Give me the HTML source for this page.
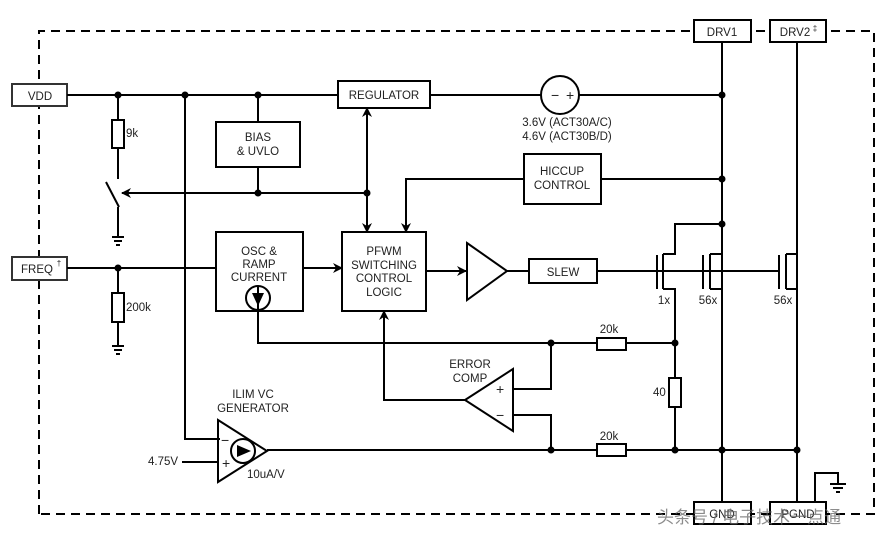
<!DOCTYPE html>
<html><head><style>body{margin:0;background:#fff}svg{display:block}text{font-family:"Liberation Sans",Arial,sans-serif;font-size:11.5px;fill:#222}</style></head>
<body>
<svg width="889" height="534" viewBox="0 0 889 534" xmlns="http://www.w3.org/2000/svg">
<defs><marker id="a" markerWidth="10" markerHeight="10" refX="9" refY="5" orient="auto" markerUnits="userSpaceOnUse"><path d="M0,0 L10,5 L0,10 L3,5 z" fill="#000"/></marker></defs>
<g fill="none" stroke="#000" stroke-width="2">
<path d="M39,514 V31 H874 V514 Z" stroke-dasharray="9,6"/>
</g>
<g fill="#fff" stroke="#000" stroke-width="2">
<rect x="12" y="84" width="55" height="22" stroke="#333"/>
<rect x="12" y="257" width="55" height="23" stroke="#333"/>
<rect x="694" y="20" width="57" height="22"/>
<rect x="770" y="20" width="56" height="22"/>
<rect x="694" y="502" width="57" height="22"/>
<rect x="770" y="502" width="56" height="22"/>
</g>
<g fill="none" stroke="#000" stroke-width="2">
<path d="M67,95 H338 M430,95 H541 M579,95 H722"/>
<path d="M118,95 V120 M118,148 V179 M106,182 L119,207 M118,207 V236"/>
<path d="M112,237 H124 M114,241 H122 M116,245 H120"/>
<path d="M258,95 V122 M258,167 V193 M367,193 H122" marker-end="url(#a)"/>
<path d="M367,193 V108" marker-end="url(#a)"/>
<path d="M367,193 V232" marker-end="url(#a)"/>
<path d="M185,95 V439 H220"/>
<path d="M524,179 H406 V232" marker-end="url(#a)"/>
<path d="M601,179 H722 M722,42 V502 M797,42 V502"/>
<path d="M67,268 H216 M118,268 V293 M118,322 V345 M112,346 H124 M114,350 H122 M116,354 H120"/>
<path d="M303,268 H342" marker-end="url(#a)"/>
<path d="M426,271 H466" marker-end="url(#a)"/>
<path d="M467,243 L507,271 L467,300 Z"/>
<path d="M507,271 H529 M597,271 H779"/>
<path d="M258,310 V343 H597 M626,343 H675"/>
<path d="M657,255 V289 M663,254 V289 M663,254 H675 V224 H722 M663,289 H675 V378 M675,407 V450"/>
<path d="M703,255 V289 M710,254 V289 M710,254 H722 M710,289 H722"/>
<path d="M779,255 V289 M786,254 V289 M786,254 H797 V42 M786,289 H797"/>
<path d="M267,450 H597 M626,450 H797"/>
<path d="M465,400 L513,369 L513,431 Z"/>
<path d="M513,389 H551 V343 M513,415 H551 V450"/>
<path d="M465,400 H384 V311" marker-end="url(#a)"/>
<path d="M218,420 L267,451 L218,482 Z"/>
<path d="M182,462 H218"/>
<circle cx="243" cy="451" r="12"/>
<circle cx="560" cy="95" r="19"/>
<path d="M815,502 V473 H838 V483 M830,484 H846 M833,488 H843 M836,492 H840"/>
</g>
<g fill="#000"><path d="M237,445 L251,451 L237,457 Z"/></g>
<g fill="#fff" stroke="#000" stroke-width="2">
<rect x="338" y="81" width="92" height="27"/>
<rect x="216" y="122" width="84" height="45"/>
<rect x="524" y="154" width="77" height="50"/>
<rect x="216" y="232" width="87" height="79"/>
<rect x="342" y="232" width="84" height="79"/>
<rect x="529" y="259" width="68" height="24"/>
<rect x="112" y="120" width="12" height="28"/>
<rect x="112" y="293" width="12" height="29"/>
<rect x="597" y="338" width="29" height="12"/>
<rect x="597" y="444" width="29" height="12"/>
<rect x="669" y="378" width="12" height="29"/>
</g>
<circle cx="258" cy="298" r="12" fill="none" stroke="#000" stroke-width="2"/>
<path d="M258,286 V310" stroke="#000" stroke-width="2"/>
<path d="M252,293 L258,306 L264,293 Z" fill="#000"/>
<g fill="#000">
<circle cx="118" cy="95" r="3.5"/><circle cx="185" cy="95" r="3.5"/><circle cx="258" cy="95" r="3.5"/>
<circle cx="722" cy="95" r="3.5"/><circle cx="258" cy="193" r="3.5"/><circle cx="367" cy="193" r="3.5"/>
<circle cx="722" cy="179" r="3.5"/><circle cx="722" cy="224" r="3.5"/><circle cx="118" cy="268" r="3.5"/>
<circle cx="551" cy="343" r="3.5"/><circle cx="675" cy="343" r="3.5"/>
<circle cx="551" cy="450" r="3.5"/><circle cx="675" cy="450" r="3.5"/><circle cx="722" cy="450" r="3.5"/><circle cx="797" cy="450" r="3.5"/>
</g>
<g text-anchor="middle">
<text x="40" y="100">VDD</text>
<text x="37" y="273">FREQ</text><text x="59" y="266" style="font-size:8px">†</text>
<text x="722" y="36">DRV1</text>
<text x="795" y="36">DRV2</text><text x="815" y="31" style="font-size:8px">‡</text>
<text x="722" y="518">GND</text><text x="798" y="518">PGND</text>
<text x="384" y="99">REGULATOR</text>
<text x="258" y="141">BIAS</text><text x="258" y="155">&amp; UVLO</text>
<text x="562" y="175">HICCUP</text><text x="562" y="189">CONTROL</text>
<text x="259" y="255">OSC &amp;</text><text x="259" y="268">RAMP</text><text x="259" y="281">CURRENT</text>
<text x="384" y="255">PFWM</text><text x="384" y="269">SWITCHING</text><text x="384" y="282">CONTROL</text><text x="384" y="296">LOGIC</text>
<text x="563" y="276">SLEW</text>
<text x="567" y="126">3.6V (ACT30A/C)</text><text x="567" y="140">4.6V (ACT30B/D)</text>
<text x="664" y="304">1x</text><text x="708" y="304">56x</text><text x="783" y="304">56x</text>
<text x="609" y="333">20k</text><text x="609" y="440">20k</text>
<text x="470" y="368">ERROR</text><text x="470" y="382">COMP</text>
<text x="253" y="398">ILIM VC</text><text x="253" y="412">GENERATOR</text>
</g>
<text x="126" y="137">9k</text><text x="126" y="311">200k</text>
<text x="653" y="396">40</text><text x="148" y="465">4.75V</text><text x="247" y="478">10uA/V</text>
<text x="551" y="100" style="font-size:14px">−</text><text x="566" y="100" style="font-size:14px">+</text>
<text x="496" y="394" style="font-size:14px">+</text><text x="496" y="420" style="font-size:14px">−</text>
<text x="221" y="445" style="font-size:14px">−</text><text x="222" y="468" style="font-size:14px">+</text>
<text x="657" y="523" style="font-size:17px;fill:#666;opacity:.75;font-family:'Liberation Sans','Noto Sans CJK SC',sans-serif">头条号 / 电子技术一点通</text>
</svg>
</body></html>
